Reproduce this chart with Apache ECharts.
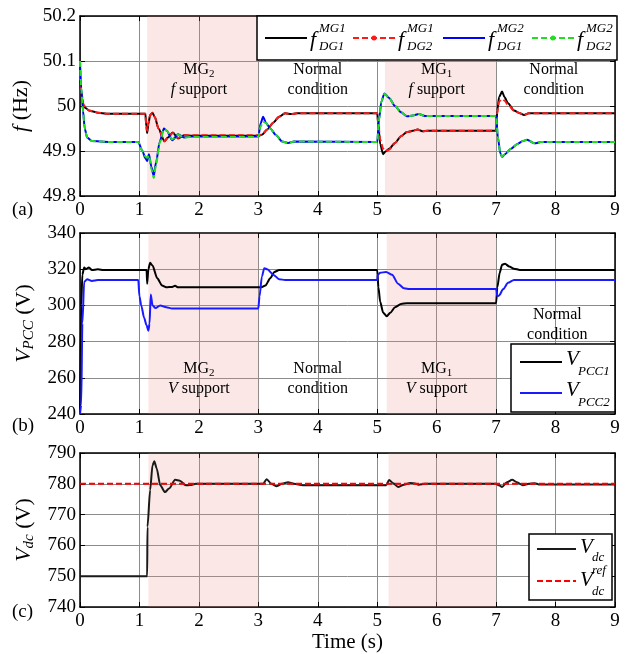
<!DOCTYPE html>
<html>
<head>
<meta charset="utf-8">
<script src="https://cdn.jsdelivr.net/npm/echarts@6/dist/echarts.min.js"></script>
<style>
  html, body { margin: 0; padding: 0; background: #fff; }
  #chart { width: 634px; height: 654px; }
</style>
</head>
<body>
<div id="chart"></div>
<script>
// ---- (a) frequencies of the DGs in each microgrid (Hz) ----
const tMG1 = [0, 0.03, 0.06, 0.1, 0.15, 0.22, 0.3, 0.45,
  1.1, 1.115, 1.13, 1.15, 1.18, 1.22, 1.26, 1.32, 1.42, 1.48, 1.56, 1.65, 1.75, 1.85,
  3.0, 3.06, 3.15, 3.25, 3.35, 3.45, 3.55, 3.65,
  5.0, 5.02, 5.05, 5.1, 5.14, 5.2, 5.3, 5.4, 5.5, 5.6, 5.68, 5.76, 5.85,
  7.0, 7.02, 7.05, 7.1, 7.14, 7.2, 7.3, 7.4, 7.47, 7.55, 9];
const fMG1DG1 = [50.06, 50.02, 50.0, 49.995, 49.99, 49.988, 49.985, 49.983,
  49.983, 49.955, 49.94, 49.96, 49.98, 49.985, 49.975, 49.95, 49.922, 49.93, 49.941, 49.928, 49.935, 49.934,
  49.934, 49.936, 49.948, 49.963, 49.976, 49.984, 49.982, 49.984,
  49.984, 49.955, 49.915, 49.893, 49.899, 49.905, 49.918, 49.933, 49.942, 49.945, 49.948, 49.944, 49.945,
  49.945, 49.99, 50.02, 50.032, 50.02, 50.006, 49.99, 49.984, 49.98, 49.984, 49.984];
const fMG1DG2 = [50.07, 50.025, 50.003, 49.995, 49.99, 49.988, 49.985, 49.983,
  49.983, 49.958, 49.945, 49.962, 49.98, 49.985, 49.975, 49.95, 49.921, 49.93, 49.94, 49.929, 49.935, 49.935,
  49.935, 49.936, 49.948, 49.963, 49.976, 49.984, 49.982, 49.984,
  49.984, 49.96, 49.925, 49.905, 49.9, 49.903, 49.918, 49.933, 49.942, 49.945, 49.948, 49.944, 49.945,
  49.945, 49.985, 50.01, 50.015, 50.012, 50.003, 49.99, 49.984, 49.98, 49.984, 49.984];

const tMG2 = [0, 0.02, 0.05, 0.08, 0.12, 0.2, 0.5, 0.98,
  1.05, 1.1, 1.13, 1.16, 1.2, 1.24, 1.28, 1.34, 1.41, 1.46, 1.55, 1.65, 1.75, 1.85,
  3.0, 3.04, 3.08, 3.13, 3.2, 3.3, 3.4, 3.5, 3.6,
  5.0, 5.03, 5.07, 5.12, 5.2, 5.3, 5.4, 5.5, 5.6, 5.7, 5.8,
  7.0, 7.03, 7.07, 7.1, 7.15, 7.25, 7.35, 7.45, 7.52, 7.65, 7.75, 9];
const fMG2DG1 = [50.1, 50.04, 49.99, 49.95, 49.93, 49.922, 49.92, 49.92,
  49.9, 49.884, 49.878, 49.893, 49.865, 49.845, 49.875, 49.92, 49.95, 49.945, 49.924, 49.937, 49.93, 49.932,
  49.932, 49.962, 49.976, 49.962, 49.95, 49.935, 49.921, 49.918, 49.921,
  49.92, 49.97, 50.01, 50.028, 50.018, 50.0, 49.986, 49.977, 49.979, 49.982, 49.978,
  49.978, 49.93, 49.895, 49.887, 49.893, 49.905, 49.915, 49.922, 49.925, 49.917, 49.92, 49.92];
const fMG2DG2 = [50.1, 50.04, 49.99, 49.95, 49.93, 49.922, 49.92, 49.92,
  49.9, 49.888, 49.885, 49.89, 49.86, 49.84, 49.87, 49.918, 49.948, 49.945, 49.926, 49.936, 49.93, 49.931,
  49.931, 49.955, 49.965, 49.962, 49.95, 49.935, 49.921, 49.918, 49.921,
  49.92, 49.97, 50.01, 50.027, 50.018, 50.0, 49.986, 49.977, 49.979, 49.982, 49.978,
  49.978, 49.93, 49.895, 49.888, 49.893, 49.905, 49.915, 49.922, 49.925, 49.917, 49.92, 49.92];

// ---- (b) PCC voltages (V) ----
const tPCC1 = [0, 0.02, 0.04, 0.07, 0.1, 0.15, 0.2, 0.3, 0.4,
  1.12, 1.13, 1.15, 1.18, 1.22, 1.3, 1.38, 1.45, 1.55, 1.6, 1.65,
  3.05, 3.12, 3.2, 3.27, 3.35,
  5.0, 5.02, 5.05, 5.1, 5.16, 5.22, 5.3, 5.4, 5.5,
  7.0, 7.02, 7.06, 7.1, 7.15, 7.22, 7.3, 7.4, 9];
const vPCC1 = [240, 300, 317, 321, 320, 321, 319.5, 320, 319.5,
  319.5, 312, 320, 323.5, 322, 315, 311, 310, 310.2, 310.8, 310,
  310, 311, 315, 318.5, 319.5,
  319.5, 310, 302, 296, 294, 296, 299, 300.8, 301.2,
  301.2, 310, 318, 322.5, 323, 321.5, 320.3, 319.6, 319.6];
const tPCC2 = [0, 0.02, 0.04, 0.07, 0.12, 0.2, 0.3,
  0.98, 1.0, 1.03, 1.08, 1.12, 1.15, 1.17, 1.19, 1.22, 1.27, 1.35, 1.45, 1.55,
  3.0, 3.02, 3.06, 3.1, 3.15, 3.25, 3.35, 3.45,
  5.0, 5.01, 5.05, 5.15, 5.25, 5.35, 5.45, 5.55,
  7.0, 7.02, 7.05, 7.12, 7.2, 7.3, 9];
const vPCC2 = [240, 245, 290, 313, 314.5, 313.5, 314,
  314, 305, 300, 293, 289, 286, 290, 306, 300, 298.5, 300, 299, 298.3,
  298.3, 305, 316, 320.5, 320, 317, 314.5, 314,
  314, 317, 318, 318.5, 317, 312, 309.5, 309,
  309, 305, 305.5, 309, 312.5, 314, 314];

// ---- (c) DC-link voltage and its reference (V) ----
const tDC = [0, 1.13, 1.135, 1.18, 1.22, 1.25, 1.29, 1.35, 1.43, 1.5, 1.6, 1.68, 1.78, 1.85, 1.95,
  3.08, 3.14, 3.22, 3.3, 3.4, 3.5, 3.6, 3.75,
  5.15, 5.2, 5.27, 5.35, 5.45, 5.55, 5.65, 5.7, 5.8,
  7.0, 7.05, 7.1, 7.18, 7.27, 7.35, 7.45, 7.55, 7.65, 7.72, 9];
const vDC = [750, 750, 766, 778, 786, 787.3, 785, 779.5, 777.3, 778.5, 781.3, 781, 779.5, 779.6, 780,
  780, 781.5, 780, 779.2, 780, 780.5, 780, 779.5,
  779.5, 781.2, 780.2, 779, 779.7, 780.3, 780, 779.7, 780,
  780, 779.5, 779, 780.5, 781.3, 780.5, 779.5, 780, 780.2, 779.8, 779.8];
const tRef = [0, 9];
const vRef = [780, 780];

// ---- support intervals (s) and x ticks ----
const supportA = [[1.13, 3], [5.13, 7]];
const supportB = [[1.15, 3], [5.16, 7]];
const supportC = [[1.15, 3], [5.19, 7]];
const timeTicks = [0, 1, 2, 3, 4, 5, 6, 7, 8, 9];

// ---- region notes: [time, value, text] ----
const notesA = [[2.0, 50.058, '{n|MG}{s|2}\n{i|f}{n| support}'],
  [4.0, 50.058, '{n|Normal}\n{n|condition}'],
  [6.0, 50.058, '{n|MG}{s|1}\n{i|f}{n| support}'],
  [7.97, 50.058, '{n|Normal}\n{n|condition}']];
const notesB = [[2.0, 259.5, '{n|MG}{s|2}\n{i|V}{n| support}'],
  [4.0, 259.5, '{n|Normal}\n{n|condition}'],
  [6.0, 259.5, '{n|MG}{s|1}\n{i|V}{n| support}'],
  [8.03, 289.5, '{n|Normal}\n{n|condition}']];

const FONT = 'Liberation Serif';
const pairs = (t, v) => t.map((x, i) => [x, v[i]]);

const noteRich = {
  n: { fontFamily: FONT, fontSize: 16, color: '#000', lineHeight: 20, textBorderWidth: 0 },
  i: { fontFamily: FONT, fontSize: 16, fontStyle: 'italic', color: '#000', lineHeight: 20, textBorderWidth: 0 },
  s: { fontFamily: FONT, fontSize: 11, color: '#000', verticalAlign: 'bottom', padding: [6, 0, 0, 0], lineHeight: 20, textBorderWidth: 0 }
};

const grids = [
  { left: 80, top: 16, width: 535, height: 180 },
  { left: 80, top: 233, width: 535, height: 181 },
  { left: 80, top: 453, width: 535, height: 154 }
];

const boxLine = { show: true, onZero: false, lineStyle: { color: '#000', width: 1.5 } };
const tickIn = { show: true, inside: true, length: 5, lineStyle: { color: '#000', width: 1 } };
const gridLine = { show: true, lineStyle: { color: '#8c8c8c', width: 1 } };

const xAxis = [];
const yAxis = [];
grids.forEach((g, gi) => {
  xAxis.push({
    type: 'value', gridIndex: gi, min: timeTicks[0], max: timeTicks[timeTicks.length - 1], interval: 1,
    axisLine: boxLine, axisTick: tickIn, splitLine: gridLine,
    axisLabel: { color: '#000', fontFamily: FONT, fontSize: 19, margin: 5 },
    name: gi === 2 ? 'Time (s)' : '', nameLocation: 'middle', nameGap: 24,
    nameTextStyle: { color: '#000', fontFamily: FONT, fontSize: 21 }
  });
  xAxis.push({
    type: 'value', gridIndex: gi, position: 'top', min: 0, max: 9, interval: 1,
    axisLine: boxLine, axisTick: tickIn, splitLine: { show: false }, axisLabel: { show: false }
  });
});

const yRanges = [
  { min: 49.8, max: 50.2, interval: 0.1, name: '{i|f}{n| (Hz)}' },
  { min: 240, max: 340, interval: 20, name: '{i|V}{s|PCC}{n| (V)}' },
  { min: 740, max: 790, interval: 10, name: '{i|V}{s|dc}{n| (V)}' }
];
const nameRich = {
  n: { fontFamily: FONT, fontSize: 22, color: '#000' },
  i: { fontFamily: FONT, fontSize: 22, fontStyle: 'italic', color: '#000' },
  s: { fontFamily: FONT, fontSize: 15, fontStyle: 'italic', color: '#000', verticalAlign: 'bottom', padding: [9, 0, 0, 0] }
};
yRanges.forEach((r, gi) => {
  yAxis.push({
    type: 'value', gridIndex: gi, min: r.min, max: r.max, interval: r.interval,
    axisLine: boxLine, axisTick: tickIn, splitLine: gridLine,
    axisLabel: { color: '#000', fontFamily: FONT, fontSize: 19, margin: 4 },
    name: r.name, nameLocation: 'middle', nameGap: 42,
    nameTextStyle: { rich: nameRich }
  });
  yAxis.push({
    type: 'value', gridIndex: gi, position: 'right', min: r.min, max: r.max, interval: r.interval,
    axisLine: boxLine, axisTick: tickIn, splitLine: { show: false }, axisLabel: { show: false }
  });
});

const shade = (spans) => ({
  silent: true,
  itemStyle: { color: 'rgba(235,140,130,0.2)' },
  data: spans.map(s => [{ xAxis: s[0] }, { xAxis: s[1] }])
});

const line = (gi, data, color, dashed, extra) => Object.assign({
  type: 'line', xAxisIndex: gi * 2, yAxisIndex: gi * 2, data,
  showSymbol: false, symbol: 'none', smooth: 0.25, smoothMonotone: 'x',
  lineStyle: { color, width: 2, type: dashed ? [6, 3] : 'solid' },
  silent: true
}, extra || {});

const notes = (gi, list) => ({
  type: 'scatter', xAxisIndex: gi * 2, yAxisIndex: gi * 2, symbolSize: 0, silent: true, z: 5,
  itemStyle: { opacity: 1 },
  data: list.map(n => ({ value: [n[0], n[1]], note: n[2] })),
  label: {
    show: true, position: 'inside', align: 'center', verticalAlign: 'middle',
    color: '#000', textBorderWidth: 0, opacity: 1,
    formatter: p => p.data.note, rich: noteRich
  }
});

const series = [
  line(0, pairs(tMG1, fMG1DG1), '#000000', false, { markArea: shade(supportA) }),
  line(0, pairs(tMG1, fMG1DG2), '#ff1a1a', true),
  line(0, pairs(tMG2, fMG2DG1), '#0000ff', false),
  line(0, pairs(tMG2, fMG2DG2), '#22dd22', true),
  notes(0, notesA),
  line(1, pairs(tPCC1, vPCC1), '#000000', false, { markArea: shade(supportB) }),
  line(1, pairs(tPCC2, vPCC2), '#1a1aff', false),
  notes(1, notesB),
  line(2, pairs(tDC, vDC), '#1a1a1a', false, { markArea: shade(supportC) }),
  line(2, pairs(tRef, vRef), '#ff0000', true, { smooth: false })
];

// ---- legend boxes and panel tags ----
const g = [];
const txt = (x, y, text, size, italic, align) => ({
  type: 'text', x, y, z: 101,
  style: { text, font: (italic ? 'italic ' : '') + size + 'px "' + FONT + '"', fill: '#000',
    align: align || 'left', verticalAlign: 'middle' }
});
const seg = (x1, x2, y, color, dashed) => ({
  type: 'line', z: 101,
  shape: { x1, y1: y, x2, y2: y },
  style: { stroke: color, lineWidth: 2, lineDash: dashed ? [6, 3] : null }
});
const dot = (x, y, color) => ({ type: 'circle', z: 102, shape: { cx: x, cy: y, r: 2.5 }, style: { fill: color } });
const box = (x, y, w, h) => ({ type: 'rect', z: 100, shape: { x, y, width: w, height: h },
  style: { fill: '#fff', stroke: '#000', lineWidth: 1.5 } });

// (a)
g.push(box(257, 16, 360, 44));
const legA = [
  { color: '#000000', dashed: false, sup: 'MG1', sub: 'DG1' },
  { color: '#ff1a1a', dashed: true, sup: 'MG1', sub: 'DG2' },
  { color: '#0000ff', dashed: false, sup: 'MG2', sub: 'DG1' },
  { color: '#22dd22', dashed: true, sup: 'MG2', sub: 'DG2' }
];
const fX = [310, 398, 488, 577];
legA.forEach((e, i) => {
  const x1 = fX[i] - 45, x2 = fX[i] - 3;
  g.push(seg(x1, x2, 38, e.color, e.dashed));
  if (e.dashed) g.push(dot((x1 + x2) / 2, 38, e.color));
  g.push(txt(fX[i], 40, 'f', 22, true));
  g.push(txt(fX[i] + 9, 29, e.sup, 13, true));
  g.push(txt(fX[i] + 9, 47, e.sub, 13, true));
});
// (b)
g.push(box(511, 344, 104, 68));
g.push(seg(520, 562, 362, '#000000', false));
g.push(txt(566, 359, 'V', 21, true));
g.push(txt(578, 372, 'PCC1', 13, true));
g.push(seg(520, 562, 393, '#1a1aff', false));
g.push(txt(566, 390, 'V', 21, true));
g.push(txt(578, 403, 'PCC2', 13, true));
// (c)
g.push(box(529, 534, 83, 66));
g.push(seg(537, 576, 549, '#1a1a1a', false));
g.push(txt(580, 547, 'V', 21, true));
g.push(txt(592, 558, 'dc', 13, true));
g.push(seg(537, 576, 581, '#ff0000', true));
g.push(txt(580, 580, 'V', 21, true));
g.push(txt(592, 571, 'ref', 13, true));
g.push(txt(592, 592, 'dc', 13, true));
// panel tags
g.push(txt(12, 210, '(a)', 19, false));
g.push(txt(12, 426, '(b)', 19, false));
g.push(txt(12, 612, '(c)', 19, false));

const chart = echarts.init(document.getElementById('chart'), null, { renderer: 'canvas' });
chart.setOption({
  animation: false,
  backgroundColor: '#ffffff',
  grid: grids,
  xAxis, yAxis, series,
  graphic: g
});
</script>
</body>
</html>
